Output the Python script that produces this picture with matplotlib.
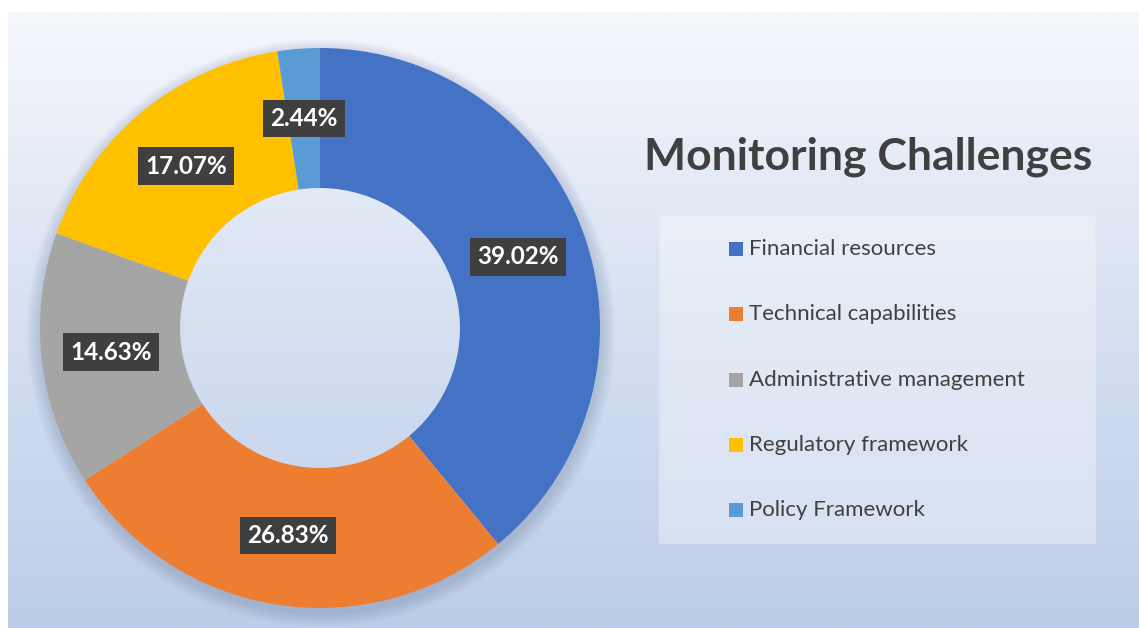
import numpy as np
import matplotlib.pyplot as plt
from matplotlib.patches import Rectangle, Wedge
from matplotlib.colors import LinearSegmentedColormap

# data
categories = ["Financial resources", "Technical capabilities", "Administrative management",
              "Regulatory framework", "Policy Framework"]
shares = [39.02, 26.83, 14.63, 17.07, 2.44]
colors = ["#4472c4", "#ed7d31", "#a5a5a5", "#ffc000", "#5b9bd5"]
chart_title = "Monitoring Challenges"

plt.rcParams['font.family'] = ['Lato', 'DejaVu Sans']

W, H = 1139, 628
fig = plt.figure(figsize=(W / 100, H / 100), dpi=100)

# gradient background of the chart area
bg = fig.add_axes([8 / W, 0, 1 - 8 / W, 1 - 12 / H])
bg.set_axis_off()
grad = np.linspace(0, 1, 256).reshape(-1, 1)
cmap = LinearSegmentedColormap.from_list("bg", ["#f5f7fc", "#d6e0f1", "#bccde9"])
bg.imshow(grad, aspect="auto", cmap=cmap, extent=[0, 1, 0, 1], origin="upper")

# main axes in pixel coordinates (y up)
ax = fig.add_axes([0, 0, 1, 1])
ax.patch.set_alpha(0)
cx, cy = 320, H - 328
R = 280

# soft shadow around the outside of the ring only
for i in range(14):
    ax.add_patch(Wedge((cx + 1, cy - 5), R + 14 - i, 0, 360, width=40,
                       facecolor="#6f84a8", alpha=0.022, lw=0))

wedges, _ = ax.pie(shares, colors=colors, startangle=90, counterclock=False,
                   radius=R, center=(cx, cy), wedgeprops=dict(width=R / 2, linewidth=0))

# percentage labels in dark boxes
start = 90.0
for val in shares:
    span = val / 100 * 360
    mid = np.deg2rad(start - span / 2)
    start -= span
    lx = cx + 0.75 * R * np.cos(mid)
    ly = cy + 0.75 * R * np.sin(mid)
    ax.text(lx, ly, f"{val:.2f}%", ha="center", va="center", color="white",
            fontsize=17.5, fontweight="bold",
            bbox=dict(boxstyle="square,pad=0.3", facecolor="#3f3f3f", edgecolor="none"))

# title
ax.text(868, H - 157, chart_title, ha="center", va="center", fontsize=32,
        fontweight="bold", color="#404040")

# legend box
ax.add_patch(Rectangle((659, H - 543), 436, 328, facecolor="white", alpha=0.35,
                       edgecolor="#e8edf6", lw=1))
for i, (name, col) in enumerate(zip(categories, colors)):
    y = H - (249 + i * 65.3)
    ax.add_patch(Rectangle((729, y - 7), 14, 14, facecolor=col, lw=0))
    ax.text(749, y, name, ha="left", va="center", fontsize=16, color="#404040")

ax.set_xlim(0, W)
ax.set_ylim(0, H)
ax.set_aspect("auto")
ax.set_axis_off()

fig.savefig("out.png", dpi=100)
